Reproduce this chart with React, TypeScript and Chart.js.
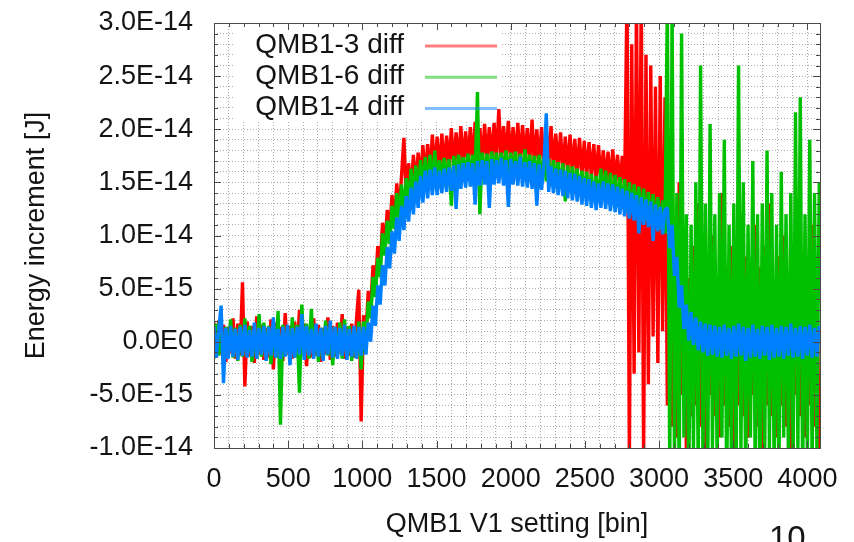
import React, { useEffect, useRef } from 'react';
import { Chart, registerables } from 'chart.js';

Chart.register(...registerables);

// ---- data (values in units of 1e-15 J, one sample every BIN_STEP bins) ----
const BIN_STEP = 16;
const X_MAX = 4085;
const Y_MIN = -10;
const Y_MAX = 30;

const SERIES_LABELS = ['QMB1-3 diff', 'QMB1-6 diff', 'QMB1-4 diff'];
const SERIES_COLORS = ['#ff0000', '#00c000', '#0080ff'];

const QMB1_3 = [
  1.8, -1.5, 2.0, -1.2, 1.6, -1.9, 1.4, -1.1, 2.2, -1.6, 1.7, -1.3, 5.6, -4.2, 1.9, -1.4, 1.5, -2.0, 2.4, -1.2,
  1.6, -1.7, 1.3, -1.5, 2.1, -2.6, 1.8, -1.3, 1.4, -1.8, 2.7, -1.2, 1.5, -1.6, 1.9, -1.4, 3.0, -1.1, 1.7, -2.3,
  1.4, -1.5, 2.2, -1.3, 1.6, -1.9, 1.3, -1.2, 2.3, -1.7, 1.5, -1.4, 1.8, -1.1, 2.6, -1.6, 1.4, -1.3, 1.7, -1.5,
  2.0, 4.9, -7.5,
  2.5, 0.6, 4.8, 3.1, 7.2, 5.1, 9.0, 6.9, 11.2, 8.9, 12.4, 10.2, 13.8, 11.2, 14.9, 12.1, 15.6, 19.2, 13.4, 16.8,
  14.1, 17.6, 14.5, 17.8, 15.1, 18.5, 15.3, 18.6, 15.7, 19.5, 15.8,
  19.3, 16.0, 19.6, 16.2, 19.4, 16.4, 20.1, 16.3, 19.7, 16.6,
  20.3, 16.5, 19.8, 16.8, 20.2, 16.7, 20.7, 16.9, 20.1, 16.8,
  20.5, 17.0, 20.2, 16.9, 20.6, 17.1, 21.9, 16.9, 20.3, 17.0,
  20.8, 16.9, 20.2, 17.1, 20.6, 16.8, 20.4, 17.0, 20.1, 16.8,
  20.9, 16.7, 20.0, 16.6, 20.2, 16.5, 19.9, 16.4, 20.3, 16.3,
  19.6, 16.2, 19.7, 16.0, 19.3, 15.9, 19.5, 15.8, 19.1, 15.7,
  19.2, 15.6, 18.9, 15.5, 18.8, 15.4, 18.6, 15.2, 18.5,
  15.1, 18.0, 15.0, 17.9, 14.8, 18.1, 14.7, 17.6, 14.5, 17.5, 14.4,
  33, -11, 28, -3, 32, -1, 33, -11, 27, -4, 26, 0.5, 24, -2, 25, 1, 23,
  -6, 12, -8, 7, -9, 15, -5, 8, -10, 6, -7, 9, -6, 13, -8, 5, -11, 8, -5, 10,
  -7, 6, -9, 14, -6, 7, -8, 9, -11, 5, -6, 12, -7, 8, -9, 6, -5, 11, -8, 7,
  -10, 9, -6, 13, -7, 5, -9, 8, -6, 10, -8, 6, -11, 9, -5, 12, -7, 7, -9, 8,
  -6, 11, -8, 6, -10,
];

const QMB1_6 = [
  -1.6, 1.7, -1.3, 1.5, -2.0, 1.4, -1.2, 2.1, -1.5, 1.3, -1.8, 1.6, -1.4, 2.2, -1.3, 1.5, -1.9, 1.2, -1.6, 2.6,
  -1.4, 1.8, -1.2, 1.5, -2.1, 1.7, -1.5, 2.9, -7.8, 1.6, -1.3, 1.4, -1.8, 2.3, -1.5, 1.6, -4.8, 3.5, -1.4, 1.7,
  -1.6, 3.1, -1.2, 1.5, -1.9, 1.3, -1.5, 2.0, -1.3, 1.6, -2.2, 1.4, -1.4, 1.8, -1.6, 2.1, -1.3, 1.5, -1.8, 1.3,
  -1.5, 1.9, -2.6,
  1.9, 0.0, 3.8, 2.2, 6.1, 4.2, 7.9, 6.1, 10.2, 8.1, 11.4, 9.2, 12.8, 10.6, 14.0, 11.5, 14.8, 12.1, 15.4, 13.0,
  16.3, 13.4, 16.6, 13.9, 17.1, 14.4, 17.4, 14.4, 17.6, 14.8, 18.0,
  15.0, 17.1, 15.2, 17.3, 15.3, 17.2, 12.8, 17.5, 15.4, 17.6,
  15.5, 17.4, 15.6, 17.7, 15.6, 17.6, 15.7, 23.5, 12.0, 17.8,
  15.8, 17.7, 15.7, 17.9, 15.9, 17.8, 15.8, 17.8, 15.9, 18.0,
  15.7, 17.8, 15.9, 17.9, 15.8, 17.7, 15.6, 18.1, 15.7, 17.6,
  15.5, 17.5, 15.4, 17.6, 15.2, 17.4, 15.1, 17.2, 15.0, 17.1,
  14.9, 16.9, 14.7, 16.8, 13.2, 16.6, 14.5, 16.5, 14.3, 16.3,
  14.1, 16.1, 13.9, 16.0, 13.7, 15.8, 13.5, 15.6, 13.3,
  16.3, 13.4, 16.1, 13.2, 15.9, 12.9, 15.7, 12.7, 15.5, 12.5, 15.3, 12.3, 15.0, 12.1, 14.8, 11.9, 14.6, 11.6,
  14.4, 11.4, 14.1, 11.2, 13.9, 10.9, 13.6, 10.6, 13.3, 10.2,
  32, -12, 31, -11, 14, -13, 29, -9, 12, -14, 11, -10, 15, -12, 26, -11, 13, -13, 20.5, -10,
  12, -12, 14, -9, 19, -14, 11, -11, 13, -12, 26, -10, 15, -13, 11, -9, 17, -12, 12, -14,
  13, -11, 18, -10, 14, -12, 11, -13, 16, -9, 12, -11, 14, -12, 21.6, -10, 23, -13, 12, -11,
  19, -12, 14, -10, 15,
];

const QMB1_4 = [
  1.4, -1.5, 1.2, 3.4, -3.9, 1.3, -1.6, 1.5, -1.4, 1.2, -1.7, 1.4, -1.3, 1.6, -1.5, 1.1, -1.4, 1.8, -1.6, 1.3,
  -1.2, 1.5, -1.8, 1.4, -1.3, 2.3, -1.5, 1.2, -1.6, 1.4, -1.4, 1.6, -2.2, 1.3, -1.5, 1.4, -1.2, 2.6, -1.7, 1.5,
  -1.3, 1.2, -1.6, 1.7, -1.4, 1.3, -1.8, 1.5, -1.2, 2.0, -1.5, 1.4, -1.6, 1.3, -1.3, 1.6, -1.7, 1.2, -1.4, 1.5,
  -1.6, 1.4, -1.3,
  1.4, -1.2, 1.8, 0.0, 3.4, 1.5, 5.3, 3.5, 7.2, 5.3, 8.9, 6.9, 10.4, 8.3, 11.7, 9.5, 12.8, 10.5, 13.7, 11.3,
  14.5, 12.0, 15.1, 12.6, 15.6, 13.1, 16.1, 13.5, 16.2, 13.8, 16.4,
  13.8, 16.1, 14.0, 16.3, 14.1, 16.4, 14.2, 16.6, 12.5, 16.7,
  14.4, 16.8, 14.5, 16.9, 14.6, 16.8, 12.9, 17.0, 14.7, 17.1,
  14.8, 17.0, 12.6, 17.2, 14.8, 17.1, 14.9, 17.3, 14.7, 17.1,
  12.7, 17.2, 14.8, 17.0, 14.7, 17.4, 14.6, 16.9, 14.5, 17.0,
  14.4, 16.8, 12.8, 16.7, 14.3, 16.7, 21.5, 14.1, 16.5, 14.0,
  16.3, 13.8, 16.2, 13.7, 16.1, 13.5, 15.9, 13.3, 15.8, 13.2,
  15.6, 12.9, 15.4, 12.8, 15.3, 12.6, 15.1, 12.4, 14.9,
  12.6, 15.1, 12.5, 14.9, 12.3, 14.8, 12.2, 14.6, 12.0, 14.4, 11.8, 14.2, 11.6, 14.0, 11.4, 13.8, 10.2, 13.6,
  11.0, 13.4, 10.8, 13.2, 9.5, 12.9, 10.4, 12.7, 10.1, 12.4,
  12.6, 8.8, 11.0, 6.2, 8.0, 3.2, 5.3, 1.2, 3.5, 0.1, 2.8, -0.3, 2.3, -0.8, 1.9, -1.0, 1.7, -1.3, 1.6, -1.2,
  1.5, -1.4, 1.4, -1.5, 1.6, -1.3, 1.3, -1.6, 1.5, -1.4, 1.7, -1.3, 1.4, -1.8, 1.3, -1.5, 1.6, -1.4, 1.2, -1.6,
  1.5, -1.3, 1.4, -1.7, 1.6, -1.5, 1.3, -1.4, 1.5, -1.6, 1.4, -1.3, 1.7, -1.5, 1.3, -1.4, 1.5, -1.6, 1.4, -1.3,
  1.6, -1.5, 1.3, -1.4, 1.5,
];

const SERIES_VALUES = [QMB1_3, QMB1_6, QMB1_4];

const X_GRID_STEP = 100;
const Y_GRID_STEP = 1;
const X_TICK_VALUES = [0, 500, 1000, 1500, 2000, 2500, 3000, 3500, 4000];
const X_TICK_LABELS = ['0', '500', '1000', '1500', '2000', '2500', '3000', '3500', '4000'];
const Y_TICK_VALUES = [-10, -5, 0, 5, 10, 15, 20, 25, 30];
const Y_TICK_LABELS = ['-1.0E-14', '-5.0E-15', '0.0E0', '5.0E-15', '1.0E-14', '1.5E-14', '2.0E-14', '2.5E-14', '3.0E-14'];

const X_TITLE = 'QMB1 V1 setting [bin]';
const Y_TITLE = 'Energy increment [J]';
const PAGE_NUMBER = '10';

const FONT_FAMILY = '"Liberation Sans", Arial, Helvetica, sans-serif';
const TEXT_COLOR = '#141414';

const framePlugin = {
  id: 'gnuFrame',
  beforeDatasetsDraw(chart: any) {
    const { ctx, chartArea: a } = chart;
    ctx.save();
    ctx.fillStyle = '#ffffff';
    ctx.fillRect(a.left + 19, a.top + 1, 268, 98);
    ctx.restore();
  },
  afterDatasetsDraw(chart: any) {
    const { ctx, chartArea: a, scales } = chart;
    const xs = scales.x;
    const ys = scales.y;
    ctx.save();
    ctx.strokeStyle = '#4a4a4a';
    ctx.lineWidth = 1;
    ctx.beginPath();
    xs.ticks.forEach((t: any) => {
      const px = Math.round(xs.getPixelForValue(t.value)) + 0.5;
      const len = X_TICK_VALUES.includes(t.value) ? 7 : 4;
      ctx.moveTo(px, a.bottom);
      ctx.lineTo(px, a.bottom - len);
      ctx.moveTo(px, a.top);
      ctx.lineTo(px, a.top + len);
    });
    ys.ticks.forEach((t: any) => {
      const py = Math.round(ys.getPixelForValue(t.value)) + 0.5;
      const len = Y_TICK_VALUES.includes(t.value) ? 7 : 4;
      ctx.moveTo(a.left, py);
      ctx.lineTo(a.left + len, py);
      ctx.moveTo(a.right, py);
      ctx.lineTo(a.right - len, py);
    });
    ctx.stroke();
    ctx.strokeRect(Math.round(a.left) + 0.5, Math.round(a.top) + 0.5, Math.round(a.right - a.left), Math.round(a.bottom - a.top));

    // key (gnuplot style: text right-aligned, sample on the right)
    ctx.font = `28px ${FONT_FAMILY}`;
    ctx.textAlign = 'right';
    ctx.textBaseline = 'middle';
    chart.data.datasets.forEach((ds: any, i: number) => {
      const y = a.top + 22 + i * 31.3;
      ctx.globalAlpha = 1;
      ctx.fillStyle = TEXT_COLOR;
      ctx.fillText(ds.label, a.left + 190, y);
      ctx.globalAlpha = 0.5;
      ctx.strokeStyle = ds.borderColor;
      ctx.lineWidth = 3;
      ctx.beginPath();
      ctx.moveTo(a.left + 211, y + 1);
      ctx.lineTo(a.left + 283, y + 1);
      ctx.stroke();
    });
    ctx.restore();
  },
};

function gridTicks(min: number, max: number, step: number) {
  const out: { value: number }[] = [];
  for (let v = min; v <= max + 1e-9; v += step) out.push({ value: v });
  return out;
}

export default function App() {
  const canvasRef = useRef<HTMLCanvasElement | null>(null);

  useEffect(() => {
    document.body.style.margin = '0';
    const canvas = canvasRef.current;
    if (!canvas) return;

    const datasets = SERIES_VALUES.map((vals, s) => ({
      label: SERIES_LABELS[s],
      data: vals.map((y, i) => ({ x: i * BIN_STEP, y })),
      borderColor: SERIES_COLORS[s],
      backgroundColor: SERIES_COLORS[s],
      borderWidth: 3.4,
      borderJoinStyle: 'bevel',
      pointRadius: 0,
      tension: 0,
      fill: false,
      order: 3 - s,
    }));

    const chart = new Chart(canvas, {
      type: 'line',
      data: { datasets },
      plugins: [framePlugin],
      options: {
        animation: false,
        responsive: false,
        maintainAspectRatio: false,
        devicePixelRatio: 1,
        events: [],
        layout: { padding: { left: 0, top: 23, right: 34, bottom: 0 } },
        plugins: {
          legend: { display: false },
          tooltip: { enabled: false },
          title: { display: false },
        },
        scales: {
          x: {
            type: 'linear',
            min: 0,
            max: X_MAX,
            afterFit: (scale: any) => {
              scale.height = 94;
              scale.paddingLeft = 0;
              scale.paddingRight = 0;
            },
            afterBuildTicks: (scale: any) => {
              scale.ticks = gridTicks(0, X_MAX, X_GRID_STEP);
            },
            ticks: {
              autoSkip: false,
              maxRotation: 0,
              minRotation: 0,
              padding: 15,
              color: TEXT_COLOR,
              font: { family: FONT_FAMILY, size: 27 },
              callback: (v: any) => {
                const k = X_TICK_VALUES.indexOf(Number(v));
                return k >= 0 ? X_TICK_LABELS[k] : '';
              },
            },
            grid: { color: 'rgba(0,0,0,0.32)', lineWidth: 1, drawTicks: false },
            border: { display: false, dash: [1, 2] },
            title: {
              display: true,
              text: X_TITLE,
              color: TEXT_COLOR,
              font: { family: FONT_FAMILY, size: 27 },
              padding: { top: 0, bottom: 1 },
            },
          },
          y: {
            type: 'linear',
            min: Y_MIN,
            max: Y_MAX,
            afterFit: (scale: any) => {
              scale.width = 214;
              scale.paddingTop = 0;
              scale.paddingBottom = 0;
            },
            afterBuildTicks: (scale: any) => {
              scale.ticks = gridTicks(Y_MIN, Y_MAX, Y_GRID_STEP);
            },
            ticks: {
              autoSkip: false,
              padding: 21,
              color: TEXT_COLOR,
              font: { family: FONT_FAMILY, size: 27 },
              callback: (v: any) => {
                const k = Y_TICK_VALUES.indexOf(Number(v));
                return k >= 0 ? Y_TICK_LABELS[k] : '';
              },
            },
            grid: { color: 'rgba(0,0,0,0.32)', lineWidth: 1, drawTicks: false },
            border: { display: false, dash: [1, 2] },
            title: {
              display: true,
              text: Y_TITLE,
              color: TEXT_COLOR,
              font: { family: FONT_FAMILY, size: 27 },
              padding: { top: 20, bottom: 0 },
            },
          },
        },
      },
    } as any);

    return () => chart.destroy();
  }, []);

  return (
    <div style={{ position: 'fixed', left: 0, top: 0, width: 854, height: 542, overflow: 'hidden', background: '#fff' }}>
      <canvas ref={canvasRef} width={854} height={542} style={{ display: 'block', width: 854, height: 542 }} />
      <div
        style={{
          position: 'absolute',
          left: 769,
          top: 521,
          fontFamily: FONT_FAMILY,
          fontSize: 33,
          lineHeight: '33px',
          color: TEXT_COLOR,
        }}
      >
        {PAGE_NUMBER}
      </div>
    </div>
  );
}
